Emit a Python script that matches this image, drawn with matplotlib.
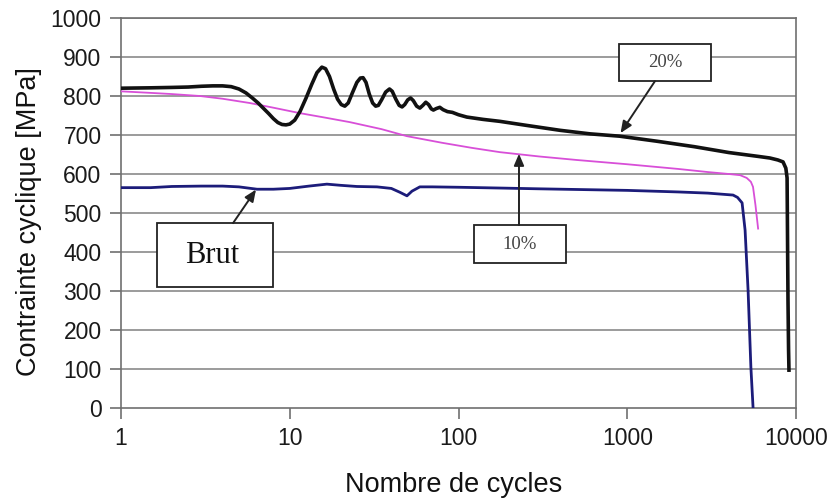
import matplotlib
matplotlib.use("Agg")
import matplotlib.pyplot as plt
from matplotlib.patches import Rectangle

# ---- data ----
x_20 = [1, 1.5, 2, 2.5, 3, 3.5, 4.0, 4.5, 5.0, 5.5, 6.0, 6.5, 7.0, 7.5, 8.0, 8.5, 9.0, 9.5, 10,
        10.7, 11.5, 12.5, 13.5, 14.5, 15.5, 16.3, 17.2, 18.2, 19.2, 20.2, 21.2, 22.2, 23.5, 25,
        26.2, 27.2, 28.3, 29.6, 31, 32.3, 33.5, 35, 37, 39, 40.5, 42.5, 44.5, 46.3, 48, 50, 52,
        54, 56.5, 59, 61.5, 64, 66.5, 69, 71, 74, 77.5, 81, 86, 92, 100, 112, 140, 176, 250,
        400, 600, 900, 1500, 2500, 4000, 6000, 7000, 7800, 8375, 8700, 8850, 8960, 9030, 9080]
y_20 = [820, 821, 822, 823, 825, 826, 826, 824, 818, 808, 795, 782, 768, 755, 742, 732, 727, 726,
        728, 738, 760, 795, 830, 860, 874, 870, 850, 818, 792, 778, 774, 782, 808, 835,
        846, 847, 835, 805, 782, 774, 776, 790, 810, 818, 812, 792, 776, 772, 778, 790, 795,
        788, 774, 769, 776, 784, 778, 767, 764, 768, 771, 765, 760, 758, 752, 746, 740, 735, 725,
        712, 703, 697, 684, 670, 655, 645, 641, 636, 631, 615, 590, 277, 150, 97]

x_10 = [1, 1.5, 2, 2.94, 4, 5.8, 8, 11.5, 16, 22.7, 35, 49.5, 80, 120, 176, 300, 500, 1000,
        2000, 3000, 4000, 4660, 5100, 5400, 5560, 5750, 5960]
y_10 = [812, 808, 805, 800, 793, 782, 770, 756, 745, 733, 715, 697, 680, 667, 656, 645, 636, 625,
        613, 605, 600, 597, 590, 580, 567, 520, 460]

x_brut = [1, 1.5, 2, 3, 4, 5, 6.4, 8, 10, 13, 16.6, 20, 25, 32.9, 40, 45, 49.5, 53, 59, 70,
          100, 176, 300, 1000, 2000, 3000, 4235, 4500, 4790, 4990, 5200, 5400, 5560]
y_brut = [565, 565, 568, 569, 569, 567, 561, 561, 563, 569, 574, 571, 568, 567, 563, 553, 544,
          556, 567, 567, 566, 564, 562, 558, 554, 551, 546, 540, 526, 456, 300, 105, 3]

x_ticks = [1, 10, 100, 1000, 10000]
x_tick_labels = ["1", "10", "100", "1000", "10000"]
y_ticks = list(range(0, 1001, 100))

fig = plt.figure(figsize=(8.36, 4.99), dpi=100)
ax = fig.add_axes([0.1447, 0.1824, 0.8075, 0.7815])

grid_c = "#8a8a8a"
for yv in y_ticks[1:]:
    ax.axhline(yv, color=grid_c, lw=1.2, zorder=1)

ax.plot(x_brut, y_brut, color="#1c1c7a", lw=2.0, zorder=3, solid_joinstyle="round")
ax.plot(x_10, y_10, color="#d84fd8", lw=1.3, zorder=3, solid_joinstyle="round")
ax.plot(x_20, y_20, color="#111111", lw=2.6, zorder=4, solid_joinstyle="round")

ax.set_xscale("log")
ax.set_xlim(1, 10000)
ax.set_ylim(0, 1000)
ax.set_xticks(x_ticks)
ax.set_xticklabels(x_tick_labels)
ax.minorticks_off()
ax.set_yticks(y_ticks)

for lab in ax.get_xticklabels() + ax.get_yticklabels():
    lab.set_fontfamily("Liberation Sans")
    lab.set_fontsize(16.5)
    lab.set_color("#1a1a1a")
ax.tick_params(axis="both", direction="out", length=8, width=1.2, color="#707070", pad=6)

for sp in ax.spines.values():
    sp.set_color("#707070")
    sp.set_linewidth(1.2)

ax.set_xlabel("Nombre de cycles", fontfamily="Liberation Sans", fontsize=19.5, color="#111111")
ax.set_ylabel("Contrainte cyclique [MPa]", fontfamily="Liberation Sans", fontsize=19.5, color="#111111")
ax.xaxis.set_label_coords(0.493, -0.165)
ax.yaxis.set_label_coords(-0.117, 0.477)

# annotation boxes
def box(x0, y0, x1, y1, text, size, tx=None, ty=None, color="#111111"):
    ax.add_patch(Rectangle((x0, y0), x1 - x0, y1 - y0, transform=ax.transAxes,
                           facecolor="white", edgecolor="#222222", lw=1.3, zorder=6))
    ax.text(tx if tx is not None else (x0 + x1) / 2, ty if ty is not None else (y0 + y1) / 2,
            text, transform=ax.transAxes, ha="center", va="center",
            fontfamily="Liberation Serif", fontsize=size, color=color, zorder=7)

def arrow(xs, ys, xe, ye):
    ax.annotate("", xy=(xe, ye), xycoords="axes fraction", xytext=(xs, ys),
                textcoords="axes fraction",
                arrowprops=dict(arrowstyle="-|>,head_length=0.7,head_width=0.3",
                                color="#222222", lw=1.4, shrinkA=0, shrinkB=0), zorder=6)

box(0.0533, 0.310, 0.225, 0.474, "Brut", 22, tx=0.135, ty=0.392)
arrow(0.166, 0.474, 0.200, 0.560)

box(0.523, 0.372, 0.659, 0.469, "10%", 13.5, color="#444444")
arrow(0.5896, 0.469, 0.5896, 0.652)

box(0.738, 0.838, 0.874, 0.933, "20%", 13.5, color="#444444")
arrow(0.791, 0.838, 0.740, 0.705)

fig.savefig("out.png", dpi=100)
